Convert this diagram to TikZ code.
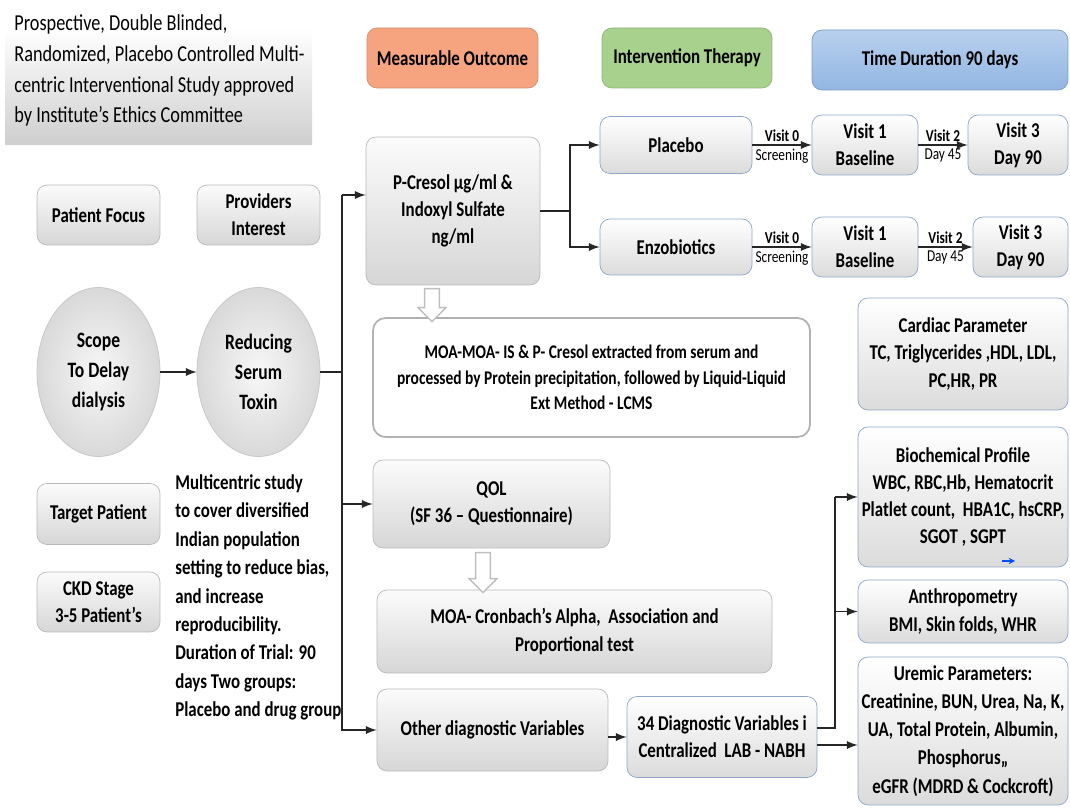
\documentclass[tikz,border=0pt]{standalone}
\usepackage{fontspec}
\setmainfont{Carlito}[FakeStretch=0.8]
\usepackage{tikz}
\usetikzlibrary{shapes,arrows,positioning}
\usepackage{xcolor}
\definecolor{measorange}{RGB}{246,164,128}
\definecolor{intgreen}{RGB}{169,209,142}
\definecolor{timeblueA}{RGB}{184,208,238}
\definecolor{timeblueB}{RGB}{146,182,226}
\definecolor{boxedge}{RGB}{140,165,200}

\begin{document}
\begin{tikzpicture}[x=0.02cm, y=-0.02cm,
    every node/.style={font=\bfseries\fontsize{12}{15.5}\selectfont, align=center},
    graybox/.style={rectangle, rounded corners=0.2cm, draw=gray!55, top color=gray!3, bottom color=gray!32, inner sep=2pt},
    bluebox/.style={rectangle, rounded corners=0.2cm, draw=boxedge, top color=white, bottom color=gray!28, inner sep=2pt},
    bubble/.style={ellipse, draw=gray!45, inner color=gray!6, outer color=gray!30, minimum width=2.46cm, minimum height=3.38cm, font=\bfseries\fontsize{12.5}{17}\selectfont},
    hdr/.style={rectangle, rounded corners=0.2cm, minimum height=1.2cm},
    conn/.style={line width=1.1pt, draw=black!85},
    arr/.style={conn, -latex},
    hollow/.style={single arrow, draw=gray!50, line width=0.8pt, fill=white, shape border rotate=270, inner sep=0.13cm, minimum width=0.56cm, single arrow head extend=0.13cm},
    vlabel/.style={font=\bfseries\fontsize{9.5}{11}\selectfont, inner sep=1.5pt},
    vnote/.style={font=\fontsize{9.5}{11}\selectfont, inner sep=1.5pt}
  ]
    \useasboundingbox (0,0) rectangle (1070,810);

    % Study design
    \shade[top color=white, bottom color=gray!38] (5,28) rectangle (312,145);
    \node[anchor=north west, align=left, inner sep=0pt, font=\fontsize{13}{17.6}\selectfont] (design) at (14,14) {Prospective, Double Blinded,\\Randomized, Placebo Controlled Multi-\\centric Interventional Study approved\\by Institute’s Ethics Committee};

    % Headers
    \node[hdr, fill=measorange, draw=measorange!85!black, minimum width=3.42cm] (meas) at (452.5,58) {Measurable Outcome};
    \node[hdr, fill=intgreen, draw=intgreen!85!black, minimum width=3.4cm] (interv) at (687,58) {Intervention Therapy};
    \node[hdr, top color=timeblueA, bottom color=timeblueB, draw=timeblueB!85!black, minimum width=5.12cm] (timed) at (940,60) {Time Duration 90 days};

    % Left column
    \node[graybox, minimum width=2.46cm, minimum height=1.2cm] (pfocus) at (98.5,215) {Patient Focus};
    \node[graybox, minimum width=2.46cm, minimum height=1.2cm] (provid) at (258.5,215) {Providers\\Interest};
    \node[bubble] (scope) at (98.5,372) {Scope\\To Delay\\dialysis};
    \node[bubble] (reduce) at (258.5,372) {Reducing\\Serum\\Toxin};
    \node[graybox, minimum width=2.46cm, minimum height=1.22cm] (target) at (98.5,514) {Target Patient};
    \node[graybox, minimum width=2.46cm, minimum height=1.2cm] (ckd) at (98.5,602) {CKD Stage\\3-5 Patient’s};
    \node[anchor=north west, align=left, inner sep=0pt, font=\bfseries\fontsize{12}{16.2}\selectfont] (note) at (175,474) {Multicentric study\\to cover diversified\\Indian population\\setting to reduce bias,\\and increase\\reproducibility.\\Duration of Trial: 90\\days Two groups:\\Placebo and drug group};

    % Outcomes
    \node[graybox, minimum width=3.48cm, minimum height=2.96cm] (pcresol) at (453,211) {P-Cresol µg/ml \&\\Indoxyl Sulfate\\ng/ml};
    \node[rectangle, rounded corners=0.25cm, draw=gray!60, line width=1pt, fill=white, minimum width=8.74cm, minimum height=2.38cm, font=\bfseries\fontsize{11}{14.5}\selectfont] (moa1) at (591.5,377.5) {MOA-MOA- IS \& P- Cresol extracted from serum and\\processed by Protein precipitation, followed by Liquid-Liquid\\Ext Method - LCMS};
    \node[graybox, minimum width=4.74cm, minimum height=1.76cm] (qol) at (491.5,504) {QOL\\(SF 36 – Questionnaire)};
    \node[graybox, minimum width=7.9cm, minimum height=1.66cm] (moa2) at (574.5,631.5) {MOA- Cronbach’s Alpha,~ Association and\\Proportional test};
    \node[graybox, minimum width=4.62cm, minimum height=1.64cm] (other) at (492.5,730) {Other diagnostic Variables};
    \node[bluebox, minimum width=3.8cm, minimum height=1.62cm] (diag) at (722,737) {34 Diagnostic Variables i\\Centralized~ LAB - NABH};
    \node[hollow, minimum height=0.66cm] (pc2moa) at (432,301.5) {};
    \node[hollow, minimum height=0.8cm] (qol2moa) at (483,569) {};

    % Therapy arms and visits
    \node[bluebox, minimum width=3.04cm, minimum height=1.14cm] (placebo) at (676,145) {Placebo};
    \node[bluebox, minimum width=3.04cm, minimum height=1.12cm] (enzo) at (676,247) {Enzobiotics};
    \node[bluebox, minimum width=2.12cm, minimum height=1.2cm] (v1a) at (865,145) {Visit 1\\Baseline};
    \node[bluebox, minimum width=2.0cm, minimum height=1.2cm] (v3a) at (1018,145) {Visit 3\\Day 90};
    \node[bluebox, minimum width=2.12cm, minimum height=1.2cm] (v1b) at (865,247) {Visit 1\\Baseline};
    \node[bluebox, minimum width=1.9cm, minimum height=1.2cm] (v3b) at (1020.5,247) {Visit 3\\Day 90};

    % Parameters
    \node[bluebox, minimum width=4.2cm, minimum height=2.24cm] (cardiac) at (963,354) {Cardiac Parameter\\TC, Triglycerides ,HDL, LDL,\\PC,HR, PR};
    \node[bluebox, minimum width=4.2cm, minimum height=2.8cm] (biochem) at (963,497) {Biochemical Profile\\WBC, RBC,Hb, Hematocrit\\Platlet count,~ HBA1C, hsCRP,\\SGOT , SGPT};
    \node[bluebox, minimum width=4.2cm, minimum height=1.26cm] (anthro) at (963,611.5) {Anthropometry\\BMI, Skin folds, WHR};
    \node[bluebox, minimum width=4.2cm, minimum height=2.96cm, font=\bfseries\fontsize{12}{16}\selectfont] (uremic) at (963,731) {Uremic Parameters:\\Creatinine, BUN, Urea, Na, K,\\UA, Total Protein, Albumin,\\Phosphorus,,\\eGFR (MDRD \& Cockcroft)};

    % Connectors
    \coordinate (ttop) at (342,195);
    \coordinate (split) at (570,211);
    \coordinate (rtop) at (835,497);
    \coordinate (bluea) at (1002,561);
    \coordinate (blueb) at (1015,561);

    \draw[arr] (scope) -- (reduce);
    \draw[conn] (reduce.east) -- (reduce.east -| ttop);
    \draw[arr] (ttop) -- (ttop -| pcresol.west);
    \draw[arr] (ttop) |- (other.west);
    \draw[arr] (qol.west -| ttop) -- (qol.west);
    \draw[conn] (pcresol.east |- split) -- (split);
    \draw[arr] (split) |- (placebo.west);
    \draw[arr] (split) |- (enzo.west);
    \draw[arr] (placebo) -- node[vlabel, above] {Visit 0} node[vnote, below] {Screening} (v1a);
    \draw[arr] (v1a) -- node[vlabel, above] {Visit 2} node[vnote, below] {Day 45} (v3a);
    \draw[arr] (enzo) -- node[vlabel, above] {Visit 0} node[vnote, below] {Screening} (v1b);
    \draw[arr] (v1b) -- node[vlabel, above] {Visit 2} node[vnote, below] {Day 45} (v3b);
    \draw[arr] (other.east |- diag.west) -- (diag.west);
    \draw[conn] ([yshift=0.18cm]diag.east) -| (rtop);
    \draw[arr] (rtop) -- (biochem.west);
    \draw[arr] (rtop |- anthro.west) -- (anthro.west);
    \draw[arr] ([yshift=-0.16cm]diag.east) -- ([yshift=-0.16cm]diag.east -| uremic.west);
    \draw[->, >=stealth, blue!70!cyan, line width=0.6pt] (bluea) -- (blueb);
\end{tikzpicture}
\end{document}
